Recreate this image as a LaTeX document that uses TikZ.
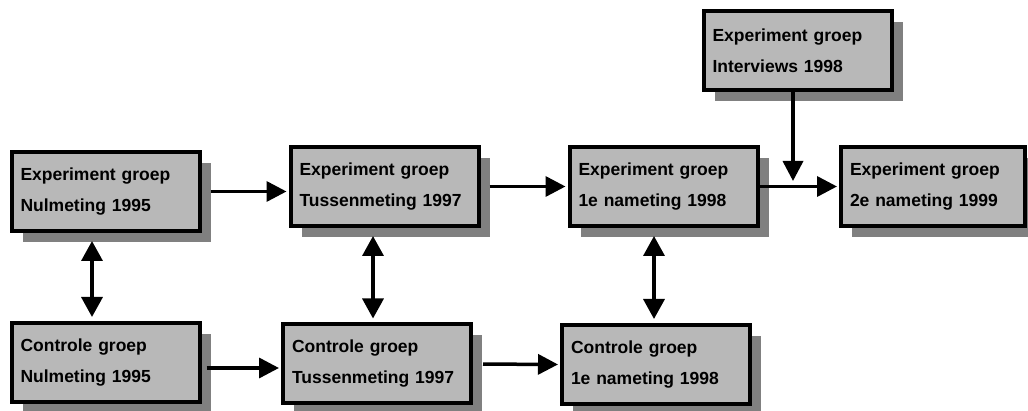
\documentclass[tikz,border=0pt]{standalone}
\usepackage{fontspec}
\setmainfont{Liberation Sans}
\usetikzlibrary{arrows.meta,shadows}
\tikzstyle{box}=[draw,line width=4pt,fill=black!28,inner xsep=9pt,inner ysep=0pt,text width=170pt,minimum height=79pt,align=left,font=\bfseries\fontsize{17.5}{31}\selectfont,drop shadow={shadow xshift=11pt,shadow yshift=-11pt,fill=black!50,opacity=1}]
\tikzstyle{arr}=[line width=3.5pt,-{Triangle[length=20pt,width=20pt]},shorten >=2pt]
\tikzstyle{dbl}=[line width=3.5pt,{Triangle[length=20pt,width=21pt]}-{Triangle[length=20pt,width=21pt]},shorten <=8pt,shorten >=4pt]

\begin{document}
\begin{tikzpicture}[x=1pt,y=-1pt]
	\useasboundingbox (0,0) rectangle (1028,411);
	% experiment groep
	\node(en)[box] at (105.5,191.5) {Experiment groep\\Nulmeting 1995};
	\node(et)[box] at (384.5,186.5) {Experiment groep\\Tussenmeting 1997};
	\node(e1)[box] at (663.5,186.5) {Experiment groep\\1e nameting 1998};
	\node(e2)[box,text width=166pt] at (933,186.5) {Experiment groep\\2e nameting 1999};
	\node(ei)[box] at (797.5,51) {Experiment groep\\Interviews 1998};
	% controle groep
	\node(cn)[box] at (105.5,362.5) {Controle groep\\Nulmeting 1995};
	\node(ct)[box] at (377,364) {Controle groep\\Tussenmeting 1997};
	\node(c1)[box] at (656,364.5) {Controle groep\\1e nameting 1998};
	\coordinate (jn) at (793,183);

	\path[arr]      (en.east) edge[shorten <=9pt] (en.east -| et.west)
	                (et.east) edge[shorten <=9pt] (e1.west)
	                (e1.east) edge (e2.west)
	                (ei.south -| jn) edge (jn)
	                ([yshift=-5.5pt]cn.east) edge[shorten <=5pt] ([yshift=-5.5pt]cn.east -| ct.west)
	                (ct.east) edge[shorten <=10pt] (c1.west);
	\path[dbl]      ([xshift=-13.5pt]en.south) edge ([xshift=-13.5pt]en.south |- cn.north)
	                ([xshift=-11.5pt]et.south) edge ([xshift=-11.5pt]et.south |- ct.north)
	                ([xshift=-9.5pt]e1.south) edge ([xshift=-9.5pt]e1.south |- c1.north);
\end{tikzpicture}
\end{document}
